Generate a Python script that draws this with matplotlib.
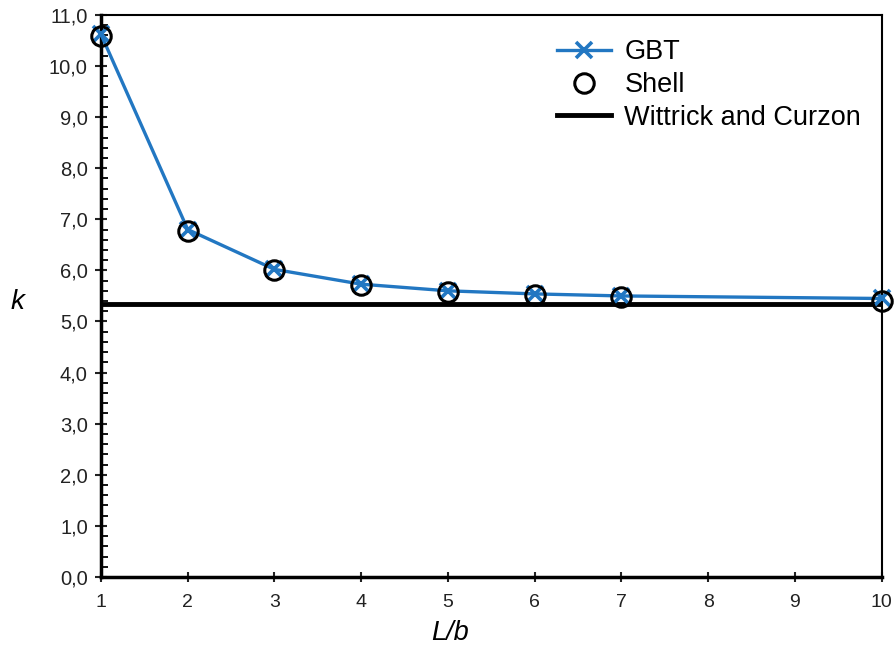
import matplotlib.pyplot as plt
from matplotlib.ticker import MultipleLocator, FuncFormatter

plt.rcParams['font.family'] = ['Liberation Sans', 'DejaVu Sans']

# data
lb = [1, 2, 3, 4, 5, 6, 7, 10]
k_gbt = [10.62, 6.80, 6.02, 5.73, 5.60, 5.54, 5.50, 5.45]
k_shell = [10.58, 6.77, 6.00, 5.71, 5.58, 5.52, 5.48, 5.40]
k_wittrick = 5.35

blue = '#2277c2'

fig = plt.figure(figsize=(8.96, 6.48), dpi=100)
ax = fig.add_axes([0.1127, 0.1096, 0.8713, 0.8674])

ax.plot(lb, k_gbt, color=blue, lw=2.4, marker='x', ms=11, mew=2.6,
        label='GBT', zorder=3, clip_on=False)
ax.plot(lb, k_shell, ls='none', marker='o', ms=14, mfc='none', mec='black',
        mew=2.2, label='Shell', zorder=4, clip_on=False)
ax.axhline(k_wittrick, color='black', lw=3.5, label='Wittrick and Curzon',
           zorder=2)

ax.set_xlim(1, 10)
ax.set_ylim(0, 11)
ax.xaxis.set_major_locator(MultipleLocator(1))
ax.yaxis.set_major_locator(MultipleLocator(1))
ax.yaxis.set_minor_locator(MultipleLocator(0.2))
ax.yaxis.set_major_formatter(FuncFormatter(lambda v, p: f'{v:.1f}'.replace('.', ',')))

ax.tick_params(axis='x', which='major', direction='inout', length=7, width=1.5,
               labelsize=14, pad=9, colors='#222222')
ax.tick_params(axis='y', which='major', direction='inout', length=9, width=1.5,
               labelsize=14.5, pad=5, colors='#222222')
ax.tick_params(axis='y', which='minor', direction='in', length=5, width=1.3)

for s in ['left', 'bottom']:
    ax.spines[s].set_linewidth(2.5)
for s in ['top', 'right']:
    ax.spines[s].set_linewidth(1.5)

ax.set_xlabel('L/b', fontsize=19.5, style='italic')
ax.xaxis.set_label_coords(0.447, -0.1, transform=ax.transAxes)
ax.xaxis.label.set_va('center')
ax.set_ylabel('k', fontsize=20, style='italic', rotation=0, va='center')
ax.yaxis.set_label_coords(-0.107, 0.49, transform=ax.transAxes)

ax.legend(loc='upper right', frameon=False, fontsize=19.5, handlelength=2.0,
          handletextpad=0.5, borderaxespad=0.5, labelspacing=0.25,
          bbox_to_anchor=(1.005, 1.0))

fig.savefig('out.png', dpi=100)
